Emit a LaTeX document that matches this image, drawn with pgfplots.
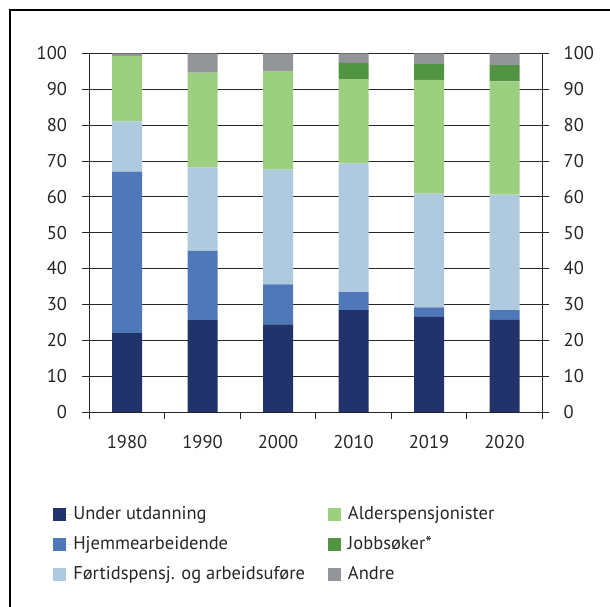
\documentclass[border=0pt]{standalone}
\usepackage{fontspec}
\setmainfont{PT Sans}
\usepackage{pgfplots}
\pgfplotsset{compat=1.18}
\definecolor{cUnder}{HTML}{21336A}
\definecolor{cHjem}{HTML}{4F78B9}
\definecolor{cFort}{HTML}{AFC9DF}
\definecolor{cAlder}{HTML}{9DCF80}
\definecolor{cJobb}{HTML}{519441}
\definecolor{cAndre}{HTML}{939598}
\begin{document}
\fontsize{18.5}{22}\selectfont
\begin{tikzpicture}
\path[use as bounding box] (0pt,0pt) rectangle (610pt,606pt);
\draw[line width=1.5pt] (10pt,-5pt) -- (10pt,596pt) -- (615pt,596pt);
\pgfplotsset{sq/.style={legend image code/.code={\fill[##1] (0pt,-6.5pt) rectangle (13pt,6.5pt); \path (0pt,0pt) -- (20pt,0pt);}}}
\begin{axis}[at={(89.3pt,194pt)}, anchor=south west, scale only axis,
  width=453pt, height=358.7pt,
  ybar stacked, bar width=30pt,
  xmin=-0.5, xmax=5.5, ymin=0, ymax=100,
  axis x line*=bottom, axis y line*=left,
  tick align=outside,
  xtick={0,...,5}, xticklabels={1980,1990,2000,2010,2019,2020},
  minor xtick={-0.5,0.5,1.5,2.5,3.5,4.5,5.5},
  major x tick style={draw=none},
  minor tick length=7pt, major tick length=7pt,
  ytick={0,10,...,100},
  ymajorgrids, grid style={black!85, line width=0.8pt},
  axis line style={black!85, line width=0.8pt},
  tick style={black!85, line width=0.8pt},
  /pgf/number format/assume math mode=true,
  ticklabel style={font=\fontsize{18.5}{22}\selectfont, text=black!85},
  xticklabel style={yshift=-10pt},
  yticklabel style={xshift=-9pt},
  legend style={at={(-0.08,-0.263)}, anchor=north west, draw=none, fill=none,
    inner sep=0pt, row sep=14pt, font=\fontsize{18.5}{22}\selectfont,
    nodes={text=black!85, inner sep=0pt},
    /tikz/every even column/.append style={column sep=23pt}},
  legend columns=3, transpose legend, legend cell align=left,
]
\addplot[fill=cUnder, draw=none, sq] coordinates {(0,22) (1,25.6) (2,24.4) (3,28.4) (4,26.5) (5,25.7)};
\addplot[fill=cHjem, draw=none, sq] coordinates {(0,45) (1,19.3) (2,11.2) (3,5.0) (4,2.7) (5,2.7)};
\addplot[fill=cFort, draw=none, sq] coordinates {(0,14) (1,23.3) (2,32.0) (3,35.9) (4,31.7) (5,32.2)};
\addplot[fill=cAlder, draw=none, sq] coordinates {(0,18.2) (1,26.4) (2,27.3) (3,23.5) (4,31.7) (5,31.6)};
\addplot[fill=cJobb, draw=none, sq] coordinates {(0,0) (1,0) (2,0) (3,4.5) (4,4.4) (5,4.5)};
\addplot[fill=cAndre, draw=none, sq] coordinates {(0,0.8) (1,5.4) (2,5.1) (3,2.7) (4,3.0) (5,3.3)};
\legend{Under utdanning, Hjemmearbeidende, Førtidspensj. og arbeidsuføre, Alderspensjonister, Jobbsøker*, Andre}
\end{axis}
\begin{axis}[at={(89.3pt,194pt)}, anchor=south west, scale only axis,
  width=453pt, height=358.7pt,
  xmin=-0.5, xmax=5.5, ymin=0, ymax=100,
  axis x line=none, axis y line*=right,
  tick align=outside, major tick length=7pt,
  ytick={0,10,...,100},
  axis line style={black!85, line width=0.8pt},
  tick style={black!85, line width=0.8pt},
  /pgf/number format/assume math mode=true,
  ticklabel style={font=\fontsize{18.5}{22}\selectfont, text=black!85},
  yticklabel style={xshift=8pt},
]
\end{axis}
\end{tikzpicture}
\end{document}
